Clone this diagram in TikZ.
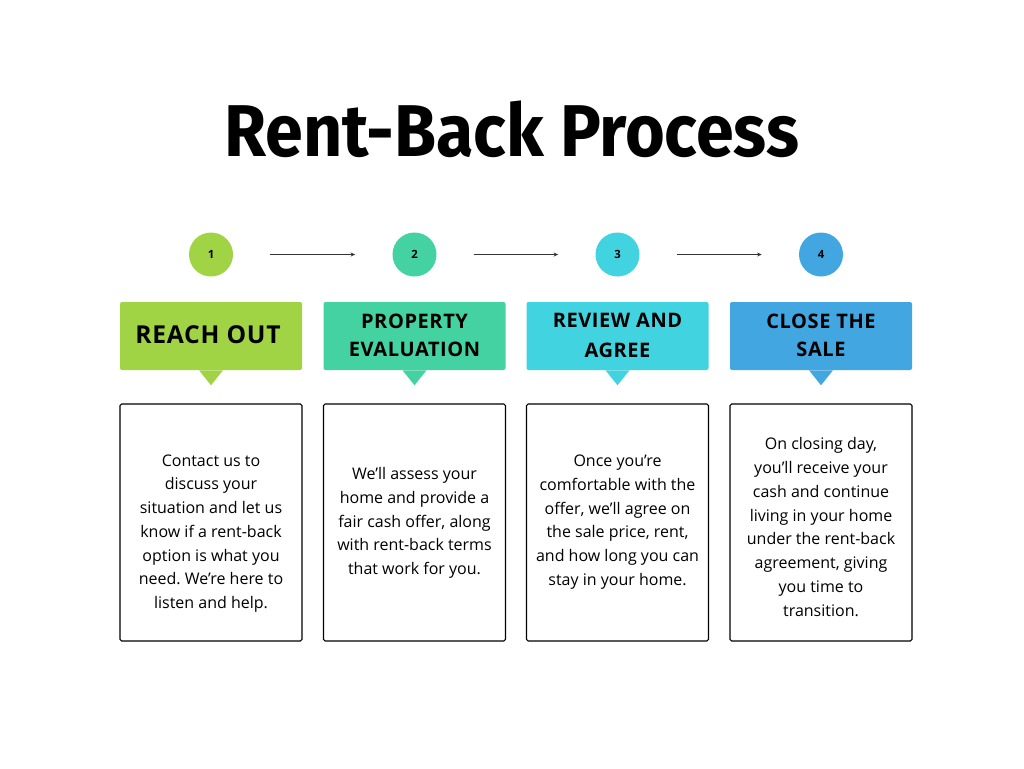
\documentclass[tikz,border=0pt]{standalone}
\usepackage{fontspec}
\setmainfont{Open Sans}
\newfontfamily\titlefont{Fira Sans}
\newfontfamily\headfont[LetterSpace=3]{Open Sans}
\definecolor{stepgreen}{RGB}{160,212,69}
\definecolor{stepteal}{RGB}{69,210,162}
\definecolor{stepcyan}{RGB}{66,211,225}
\definecolor{stepblue}{RGB}{66,166,224}
\usetikzlibrary{arrows.meta}
\frenchspacing

\begin{document}
\begin{tikzpicture}[x=0.75pt, y=-0.75pt,
    paso/.style={circle, minimum size=33pt, inner sep=0pt, font=\bfseries\fontsize{8.5}{10}\selectfont},
    cabecera/.style={rounded corners=1.5pt, minimum width=136.5pt, minimum height=51pt, inner sep=0pt},
    etiqueta/.style={align=center, font=\headfont\bfseries\fontsize{15}{20.5}\selectfont},
    caja/.style={draw=black, line width=0.8pt, rounded corners=1.2pt, minimum width=136.5pt, minimum height=177.75pt},
    texto/.style={align=center, font=\fontsize{12}{17.8}\selectfont},
    flecha/.style={-{Stealth[length=3.5pt,width=3pt]}, line width=0.6pt, draw=black!80, shorten <=27.75pt, shorten >=27.75pt}]
            \useasboundingbox (0,0) rectangle (1024,768);

            % Titulo
            \node (titulo) at (512,129) {\scalebox{0.93}[1]{\titlefont\bfseries\fontsize{55}{60}\selectfont Rent-Back Process}};

            % Pasos, cabeceras y cajas
            \foreach \i/\x/\col in {1/211/stepgreen, 2/414.5/stepteal, 3/617.5/stepcyan, 4/821/stepblue} {
                \node[paso, fill=\col] (c\i) at (\x,254.5) {\i};
                \node[cabecera, fill=\col] (h\i) at (\x,336) {};
                \fill[\col] ([xshift=-9pt]h\i.south) -- ([xshift=9pt]h\i.south) -- ([yshift=-11.25pt]h\i.south) -- cycle;
                \node[caja] (t\i) at (\x,522.5) {};
            }

            % Flechas
            \foreach \a/\b in {1/2, 2/3, 3/4} {
                \draw[flecha] (c\a) -- (c\b);
            }

            % Etiquetas
            \node[etiqueta, font=\headfont\bfseries\fontsize{18.5}{20}\selectfont] (e1) at (208,335) {REACH OUT};
            \node[etiqueta] (e2) at (414.5,335.5) {PROPERTY\\EVALUATION};
            \node[etiqueta, font=\headfont\bfseries\fontsize{15}{22.5}\selectfont] (e3) at (617.5,335) {REVIEW AND\\AGREE};
            \node[etiqueta] (e4) at (821,335.5) {CLOSE THE\\SALE};

            % Textos
            \node[texto] (b1) at (211,533.5) {Contact us to\\discuss your\\situation and let us\\know if a rent-back\\option is what you\\need. We’re here to\\listen and help.};
            \node[texto] (b2) at (414.5,523) {We’ll assess your\\home and provide a\\fair cash offer, along\\with rent-back terms\\that work for you.};
            \node[texto] (b3) at (617.5,522) {Once you’re\\comfortable with the\\offer, we’ll agree on\\the sale price, rent,\\and how long you can\\stay in your home.};
            \node[texto] (b4) at (821,527) {On closing day,\\you’ll receive your\\cash and continue\\living in your home\\under the rent-back\\agreement, giving\\you time to\\transition.};
        \end{tikzpicture}
\end{document}
